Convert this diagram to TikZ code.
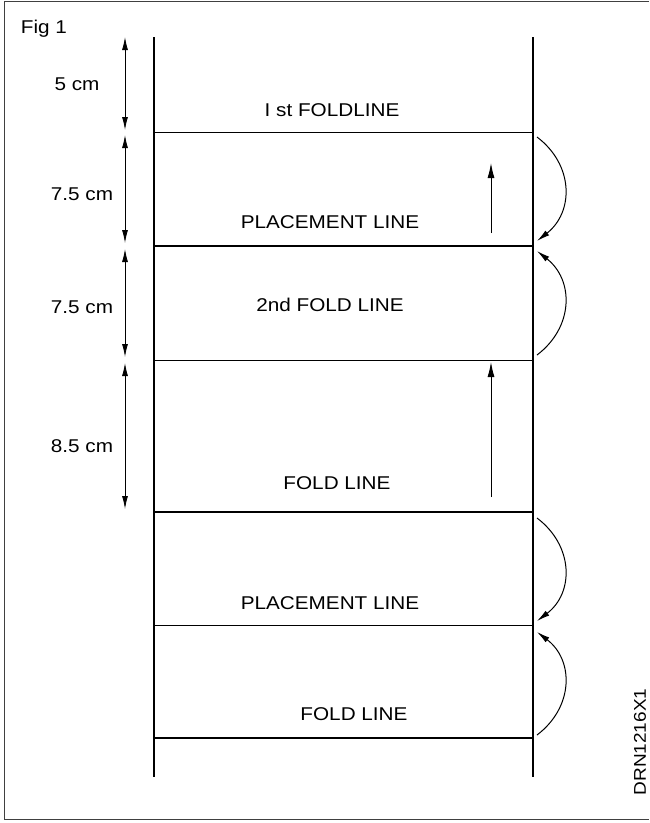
\documentclass[tikz,border=0pt]{standalone}
\usepackage{fontspec}
\setmainfont{Liberation Sans}[FakeStretch=1.12]
\usetikzlibrary{arrows.meta}

\begin{document}
\begin{tikzpicture}[
  x=1pt,y=-1pt,
  font=\fontsize{18.5}{20}\selectfont,
  rail/.style={line width=2pt},
  thinfold/.style={line width=1pt},
  thickfold/.style={line width=2.2pt},
  dim/.style={{Latex[length=13pt,width=6pt]}-{Latex[length=13pt,width=6pt]},line width=0.9pt},
  up/.style={-{Latex[length=15pt,width=7pt]},line width=1pt},
  flip/.style={-{Latex[length=13pt,width=6pt]},line width=1pt},
  lbl/.style={inner sep=0pt,anchor=base},
]
\useasboundingbox (0,0) rectangle (649,823);
% frame
\draw[line width=1pt,black!75] (649,1) -| (4,819) -- (649,819);
\node[lbl] (fig) at (44,33) {Fig 1};
% rails
\coordinate (lt) at (154,37);
\coordinate (lb) at (154,777);
\coordinate (rt) at (533,37);
\coordinate (rb) at (533,777);
\draw[rail] (lt) -- (lb);
\draw[rail] (rt) -- (rb);
% fold and placement lines
\foreach \y/\s [count=\i] in {132/thinfold,246/thickfold,360/thinfold,512/thickfold,625/thinfold,738/thickfold}{
  \coordinate (fl\i) at (154,\y);
  \coordinate (fr\i) at (533,\y);
  \draw[\s] (fl\i) -- (fr\i);
}
\node[lbl] (first) at (332,116) {I st FOLDLINE};
\node[lbl] (placeA) at (330,228) {PLACEMENT LINE};
\node[lbl] (second) at (330,311) {2nd FOLD LINE};
\node[lbl] (foldA) at (337,489) {FOLD LINE};
\node[lbl] (placeB) at (330,609) {PLACEMENT LINE};
\node[lbl] (foldB) at (354,720) {FOLD LINE};
% measures
\foreach \a/\b/\yl/\xl/\t [count=\i] in {37/130/90/77/5 cm,135/243/200/82/7.5 cm,249/357/313/82/7.5 cm,363/509/452/82/8.5 cm}{
  \coordinate (da\i) at (125,\a);
  \coordinate (db\i) at (125,\b);
  \draw[dim] (da\i) -- (db\i);
  \node[lbl] (dl\i) at (\xl,\yl) {\t};
}
% direction arrows
\coordinate (ua) at (491,233);
\coordinate (ub) at (491,163);
\coordinate (uc) at (491,497);
\coordinate (ud) at (491,362);
\draw[up] (ua) -- (ub);
\draw[up] (uc) -- (ud);
% folding turns
\draw[flip] (537,137) .. controls (574,165) and (574,212) .. (537,241);
\draw[flip] (537,355) .. controls (574,327) and (574,280) .. (537,251);
\draw[flip] (537,518) .. controls (574,546) and (574,593) .. (537,621);
\draw[flip] (537,735) .. controls (574,707) and (574,660) .. (537,632);
\node[rotate=90,inner sep=0pt,font=\fontsize{17}{18}\selectfont] (code) at (640,742) {DRN1216X1};
\end{tikzpicture}
\end{document}
